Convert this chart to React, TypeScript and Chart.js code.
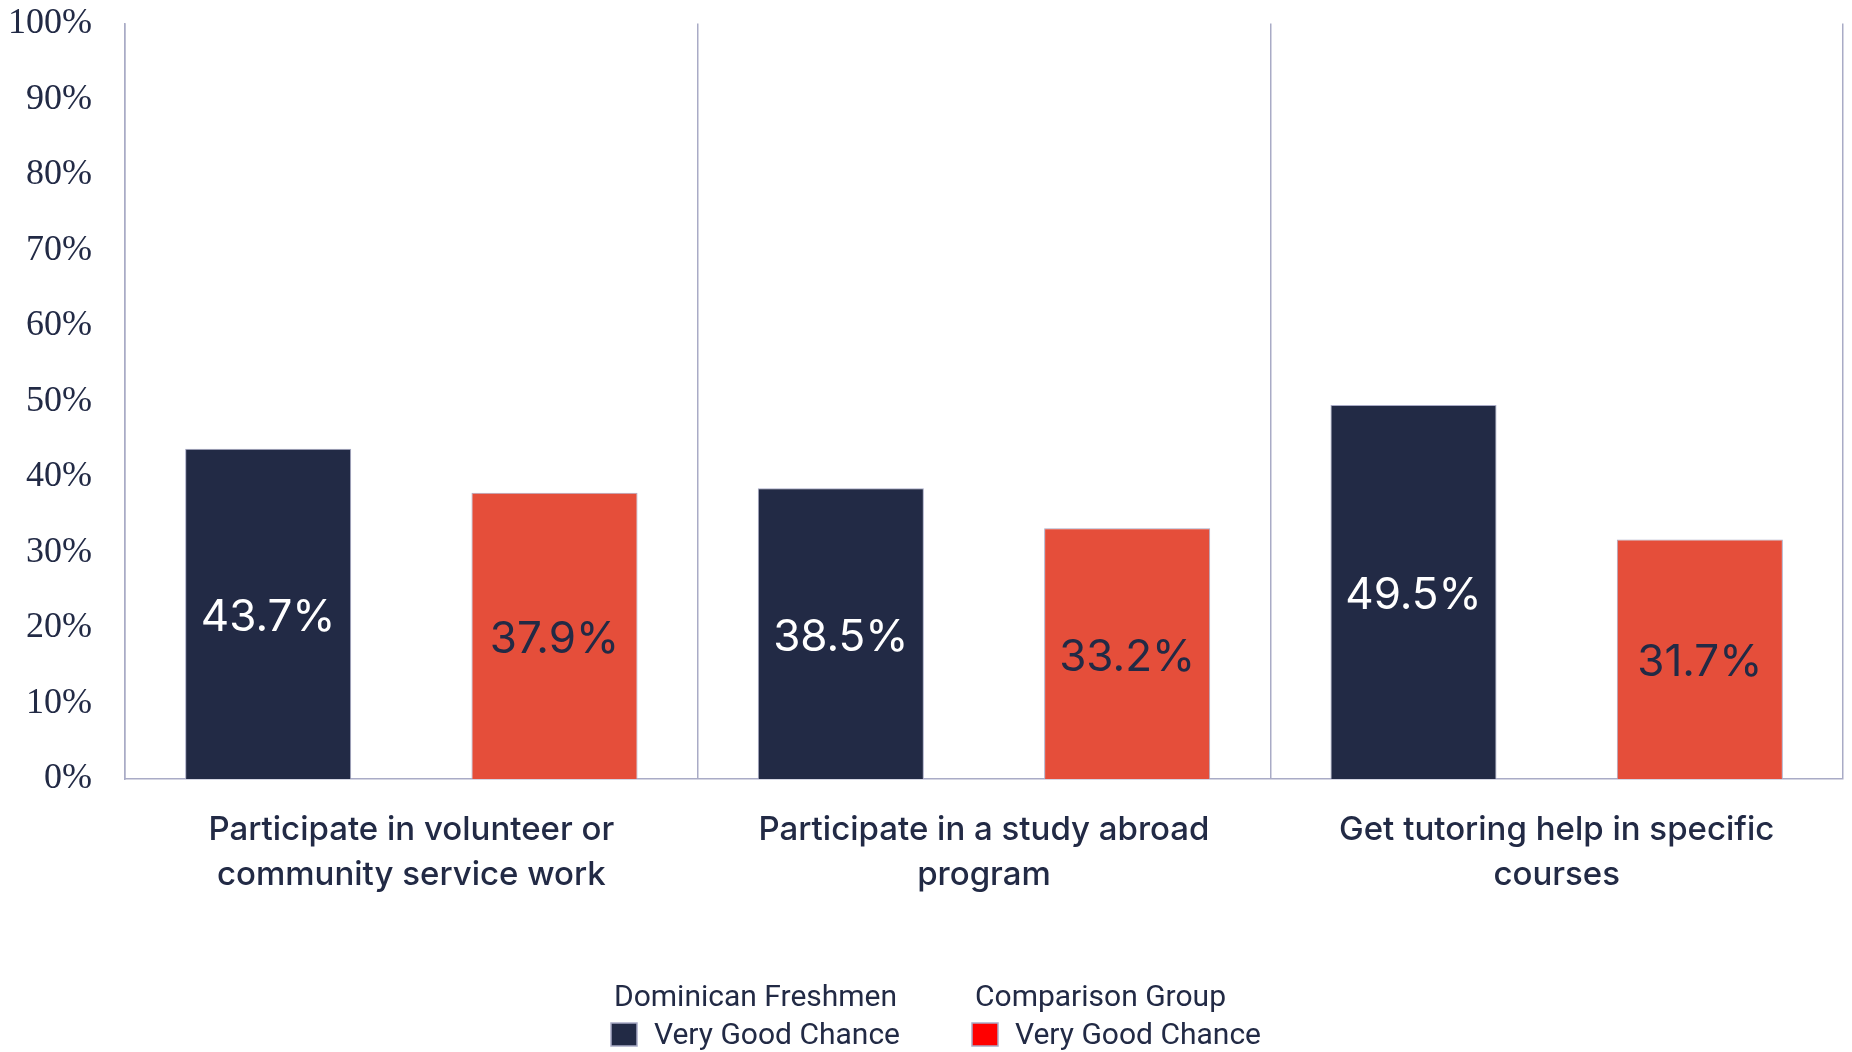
import React, { useEffect, useRef } from "react";
import { Chart, registerables } from "chart.js";

Chart.register(...registerables);

const categories: string[][] = [
  ["Participate in volunteer or", "community service work"],
  ["Participate in a study abroad", "program"],
  ["Get tutoring help in specific", "courses"],
];
const dominicanValues = [43.7, 38.5, 49.5];
const comparisonValues = [37.9, 33.2, 31.7];
const legendHeaders = ["Dominican Freshmen", "Comparison Group"];
const legendLabels = ["Very Good Chance", "Very Good Chance"];

const NAVY = "#222a45";
const RED = "#e54e3a";
const LINE = "#a9abc6";

const dataLabelPlugin = {
  id: "dataLabels",
  afterDatasetsDraw(chart: any) {
    const ctx = chart.ctx;
    ctx.save();
    ctx.font = "44px Inter";
    ctx.textAlign = "center";
    ctx.textBaseline = "middle";
    chart.data.datasets.forEach((ds: any, di: number) => {
      const meta = chart.getDatasetMeta(di);
      meta.data.forEach((bar: any, i: number) => {
        const v = ds.data[i];
        ctx.fillStyle = di === 0 ? "#ffffff" : NAVY;
        ctx.fillText(v.toFixed(1) + "%", bar.x, (bar.y + bar.base) / 2 + 4);
      });
    });
    ctx.restore();
  },
};

const legendPlugin = {
  id: "customLegend",
  afterDraw(chart: any) {
    const ctx = chart.ctx;
    const colors = [NAVY, "#ff0000"];
    const xs = [611, 972];
    ctx.save();
    ctx.font = "30px Roboto";
    ctx.textBaseline = "middle";
    ctx.textAlign = "left";
    legendHeaders.forEach((h, i) => {
      const x = xs[i];
      ctx.fillStyle = NAVY;
      ctx.fillText(h, x + 3, 998);
      ctx.fillStyle = colors[i];
      ctx.fillRect(x, 1023, 26, 23);
      ctx.strokeStyle = LINE;
      ctx.lineWidth = 1.5;
      ctx.strokeRect(x, 1023, 26, 23);
      ctx.fillStyle = NAVY;
      ctx.fillText(legendLabels[i], x + 43, 1036);
    });
    ctx.restore();
  },
};

export default function App() {
  const ref = useRef<HTMLCanvasElement | null>(null);
  useEffect(() => {
    if (!ref.current) return;
    const chart = new Chart(ref.current, {
      type: "bar",
      data: {
        labels: categories,
        datasets: [
          {
            label: "Dominican Freshmen - Very Good Chance",
            data: dominicanValues,
            backgroundColor: NAVY,
            borderColor: LINE,
            borderWidth: 1,
          },
          {
            label: "Comparison Group - Very Good Chance",
            data: comparisonValues,
            backgroundColor: RED,
            borderColor: LINE,
            borderWidth: 1,
          },
        ],
      },
      options: {
        animation: false,
        responsive: true,
        maintainAspectRatio: false,
        layout: { padding: { top: 23.5, right: 9, left: 0, bottom: 0 } },
        datasets: { bar: { categoryPercentage: 1.0, barPercentage: 0.58 } },
        plugins: { legend: { display: false }, tooltip: { enabled: false } },
        scales: {
          x: {
            grid: { display: true, drawTicks: false, color: LINE, lineWidth: 1.5, offset: true },
            border: { display: true, color: LINE, width: 1.5 },
            ticks: {
              color: NAVY,
              padding: 28,
              font: { family: "Inter", size: 33, weight: "500", lineHeight: 1.37 },
              maxRotation: 0,
              autoSkip: false,
            },
            afterFit(scale: any) {
              scale.height = 273;
              scale.paddingLeft = 0;
              scale.paddingRight = 0;
            },
          },
          y: {
            min: 0,
            max: 100,
            grid: { display: false, drawTicks: false },
            border: { display: true, color: LINE, width: 1.5 },
            ticks: {
              stepSize: 10,
              color: NAVY,
              padding: 33,
              font: { family: "Liberation Serif", size: 36 },
              callback: (v: any) => v + "%",
            },
            afterFit(scale: any) {
              scale.width = 125;
              scale.paddingTop = 0;
              scale.paddingBottom = 0;
            },
          },
        },
      },
      plugins: [dataLabelPlugin, legendPlugin],
    });
    return () => chart.destroy();
  }, []);
  return (
    <div style={{ position: "fixed", left: 0, top: 0, width: 1852, height: 1052, background: "#fff" }}>
      <canvas ref={ref} />
    </div>
  );
}
